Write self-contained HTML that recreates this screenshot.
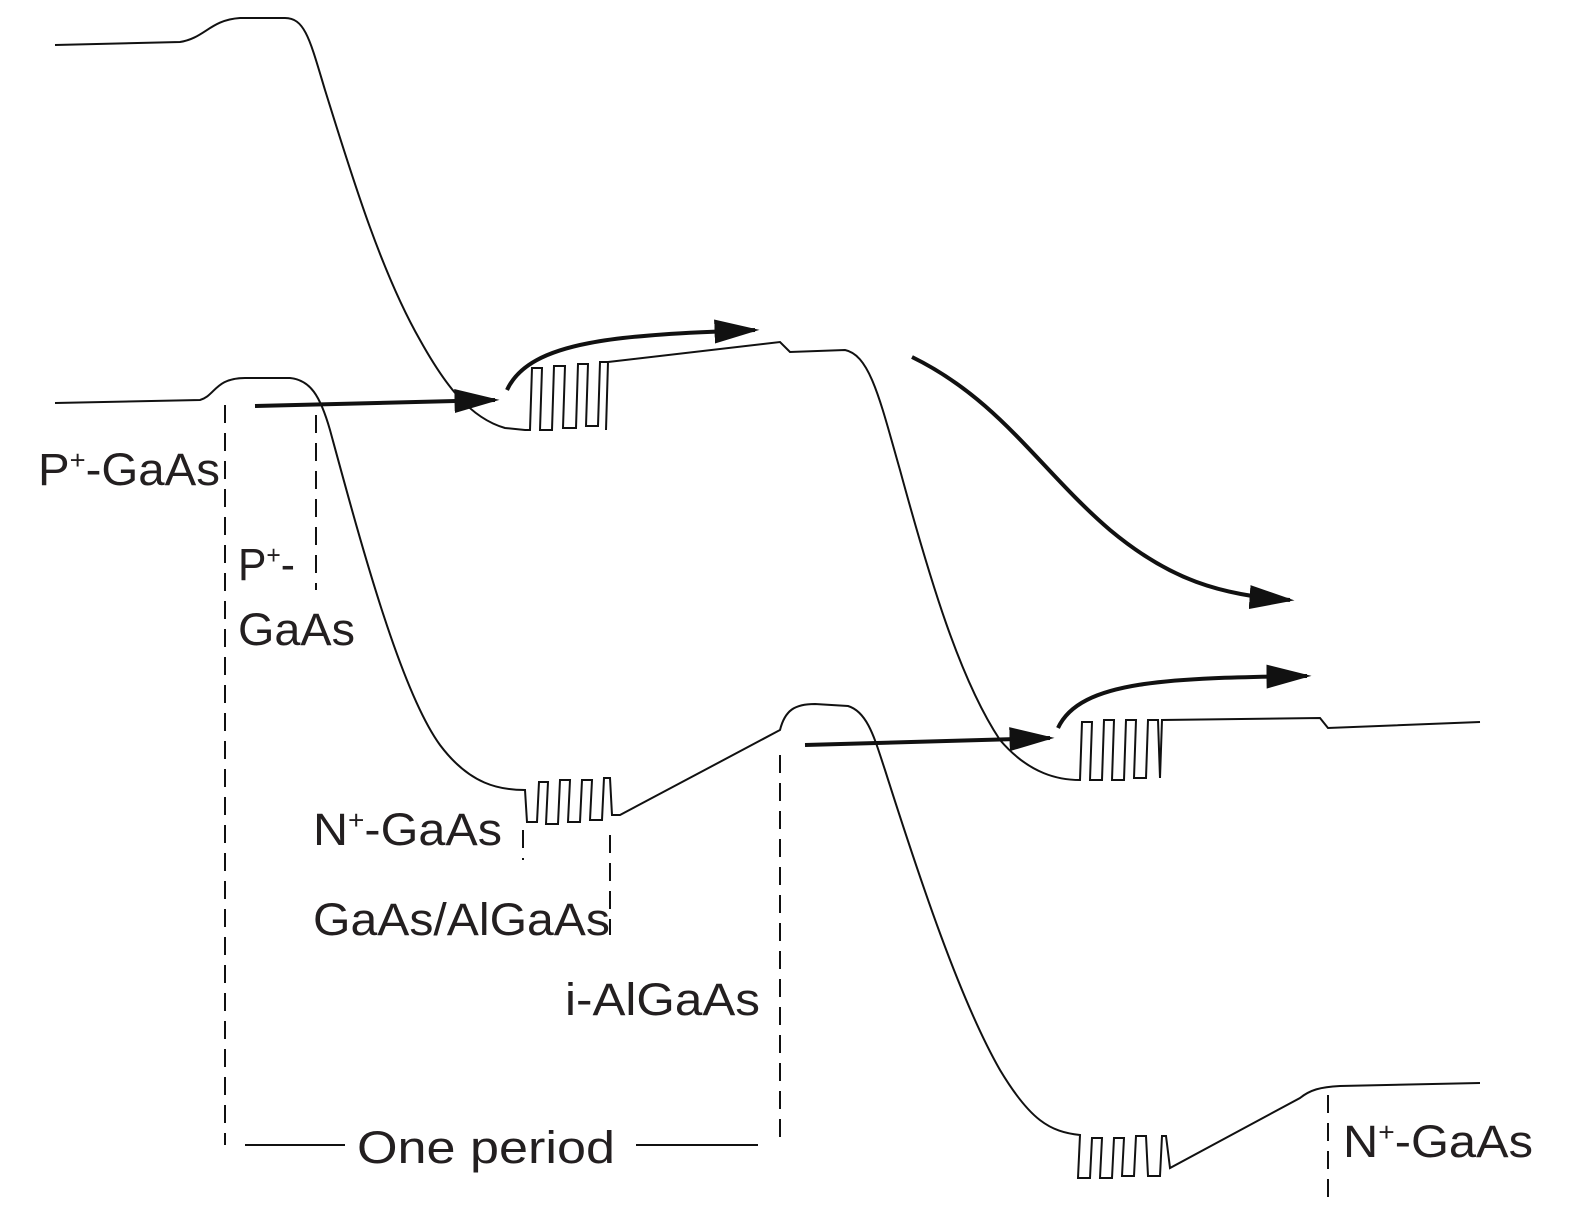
<!DOCTYPE html>
<html><head><style>body{margin:0;background:#fff}svg{display:block}text{font-family:"Liberation Sans",sans-serif;font-size:45px;fill:#231f20}</style></head><body>
<svg width="1575" height="1217" viewBox="0 0 1575 1217" xmlns="http://www.w3.org/2000/svg">
<defs>
<marker id="b" viewBox="0 0 10 8" refX="9" refY="4" markerWidth="45" markerHeight="24" orient="auto" markerUnits="userSpaceOnUse" preserveAspectRatio="none"><path d="M0,0 L10,4 L0,8z" fill="#111"/></marker></defs>
<g fill="none" stroke="#111" stroke-width="2">
<path d="M55,45 L180,42 C205,38 210,20 240,18 L285,18 C305,18 310,40 325,90 C350,170 380,270 420,340 C445,385 470,418 505,428 L525,430 L530,430 L532,368 L542,368 L540,430 L552,430 L554,366 L565,366 L563,428 L576,428 L578,364 L588,364 L586,426 L598,426 L600,362 L608,362 L606,430 M608,362 L780,342 L790,352 L845,350 C870,355 880,400 900,470 C930,580 960,680 1000,740 C1030,775 1060,780 1080,780 L1082,722 L1092,722 L1090,780 L1102,780 L1104,720 L1114,720 L1112,780 L1124,780 L1126,720 L1136,720 L1134,778 L1146,778 L1148,720 L1158,720 L1160,778 L1162,720 L1320,718 L1328,728 L1480,722"/>
<path d="M55,403 L200,400 C215,396 215,378 245,378 L290,378 C310,380 320,395 330,430 C360,540 400,690 440,745 C470,785 500,790 525,790 L527,822 L537,822 L539,782 L548,782 L546,824 L558,824 L560,780 L570,780 L568,822 L580,822 L582,780 L592,780 L590,820 L602,820 L604,778 L610,778 L612,815 L620,815 L780,730 C785,710 795,704 815,704 L848,706 C868,712 875,740 885,770 C920,880 960,1000 1000,1070 C1030,1120 1050,1132 1080,1135 L1078,1178 L1090,1178 L1092,1138 L1102,1138 L1100,1178 L1112,1178 L1114,1138 L1124,1138 L1122,1176 L1134,1176 L1136,1136 L1146,1136 L1148,1176 L1160,1176 L1162,1136 L1166,1136 L1170,1168 L1300,1098 C1310,1090 1320,1087 1340,1086 L1480,1083"/>
</g>
<g fill="none" stroke="#111" stroke-width="2" stroke-dasharray="18,10">
<path d="M225,405 V1145 M316,415 V590 M523,830 V860 M610,835 V935 M780,755 V1145 M1328,1095 V1200"/>
</g>
<g fill="none" stroke="#111" stroke-width="4">
<path d="M255,406 L495,400" marker-end="url(#b)"/>
<path d="M507,390 C530,340 620,335 755,330" marker-end="url(#b)"/>
<path d="M912,357 C1000,400 1040,470 1110,530 C1170,580 1220,595 1290,600" marker-end="url(#b)"/>
<path d="M805,745 L1050,738" marker-end="url(#b)"/>
<path d="M1058,728 C1080,680 1170,678 1307,676" marker-end="url(#b)"/>
</g>
<path d="M245,1145 H345 M636,1145 H758" stroke="#111" stroke-width="2"/>
<text x="38" y="485" textLength="182" lengthAdjust="spacingAndGlyphs">P<tspan font-size="26" dy="-16">+</tspan><tspan dy="16">-GaAs</tspan></text>
<text x="238" y="580" textLength="57" lengthAdjust="spacingAndGlyphs">P<tspan font-size="26" dy="-16">+</tspan><tspan dy="16">-</tspan></text>
<text x="238" y="645" textLength="117" lengthAdjust="spacingAndGlyphs">GaAs</text>
<text x="313" y="845" textLength="189" lengthAdjust="spacingAndGlyphs">N<tspan font-size="26" dy="-16">+</tspan><tspan dy="16">-GaAs</tspan></text>
<text x="313" y="935" textLength="297" lengthAdjust="spacingAndGlyphs">GaAs/AlGaAs</text>
<text x="565" y="1015" textLength="195" lengthAdjust="spacingAndGlyphs">i-AlGaAs</text>
<text x="357" y="1163" textLength="258" lengthAdjust="spacingAndGlyphs">One period</text>
<text x="1343" y="1157" textLength="190" lengthAdjust="spacingAndGlyphs">N<tspan font-size="26" dy="-16">+</tspan><tspan dy="16">-GaAs</tspan></text>
</svg>
</body></html>
